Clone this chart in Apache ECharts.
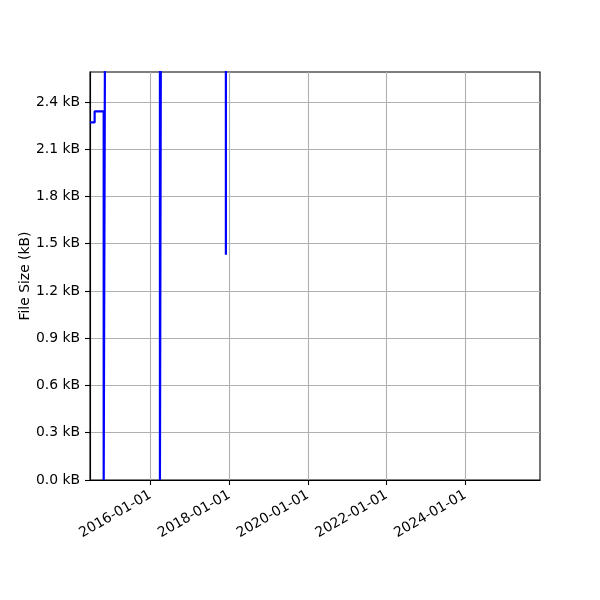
<!DOCTYPE html>
<html>
<head>
<meta charset="utf-8">
<script src="https://cdn.jsdelivr.net/npm/echarts@6/dist/echarts.min.js"></script>
<style>html,body{margin:0;padding:0;background:#fff}#c{width:600px;height:600px}</style>
</head>
<body>
<div id="c"></div>
<script>
// Data (file size in kB over time, drawn as steps-post)
const dates = ['2014-06-19', '2014-08-01', '2014-10-24', '2014-11-11', '2016-03-29', '2016-04-11', '2017-12-01'];
const sizes = [2.27, 2.34, 0, 4.2, 0, 4.2, 1.43];
const xTickDates = ['2016-01-01', '2018-01-01', '2020-01-01', '2022-01-01', '2024-01-01'];
const yTicks = [0, 0.3, 0.6, 0.9, 1.2, 1.5, 1.8, 2.1, 2.4];
const xMin = '2014-06-19';
const xMax = '2025-11-24';
const yMax = 2.59;

const t = s => Date.UTC(+s.slice(0, 4), +s.slice(5, 7) - 1, +s.slice(8, 10));
const fmtDate = v => { const d = new Date(v); const p = n => String(n).padStart(2, '0'); return d.getUTCFullYear() + '-' + p(d.getUTCMonth() + 1) + '-' + p(d.getUTCDate()); };
const FONT = 'DejaVu Sans';

const chart = echarts.init(document.getElementById('c'), null, {renderer: 'canvas'});
chart.setOption({
  animation: false,
  backgroundColor: '#fff',
  textStyle: {fontFamily: FONT},
  grid: {left: 90, right: 60, top: 72, bottom: 120, show: true, borderColor: '#000', borderWidth: 1.1, containLabel: false},
  xAxis: {
    type: 'value',
    min: t(xMin), max: t(xMax),
    axisLine: {show: true, onZero: false, lineStyle: {color: '#000', width: 1.1}},
    axisTick: {show: true, length: 5, lineStyle: {color: '#000', width: 1.1}, customValues: xTickDates.map(t)},
    axisLabel: {
      show: true, rotate: 30, margin: 14, color: '#000', fontSize: 13.9, fontFamily: FONT,
      customValues: xTickDates.map(t),
      formatter: v => fmtDate(v),
      hideOverlap: false
    },
    splitLine: {show: true, lineStyle: {color: '#b0b0b0', width: 1.1}}
  },
  yAxis: {
    type: 'value',
    min: 0, max: yMax,
    name: 'File Size (kB)', nameLocation: 'middle', nameRotate: 90, nameGap: 58,
    nameMoveOverlap: false,
    nameTextStyle: {color: '#000', fontSize: 13.9, fontFamily: FONT},
    axisLine: {show: true, lineStyle: {color: '#000', width: 1.1}},
    axisTick: {show: true, length: 5, lineStyle: {color: '#000', width: 1.1}, customValues: yTicks},
    axisLabel: {
      color: '#000', fontSize: 13.9, fontFamily: FONT, margin: 10,
      customValues: yTicks,
      formatter: v => v.toFixed(1) + ' kB'
    },
    splitLine: {show: true, lineStyle: {color: '#b0b0b0', width: 1.1}}
  },
  series: [{
    type: 'line',
    step: 'end',
    showSymbol: false,
    clip: true,
    lineStyle: {color: '#0000ff', width: 2.2},
    itemStyle: {color: '#0000ff'},
    data: dates.map((d, i) => [t(d), sizes[i]])
  }]
});
</script>
</body>
</html>
